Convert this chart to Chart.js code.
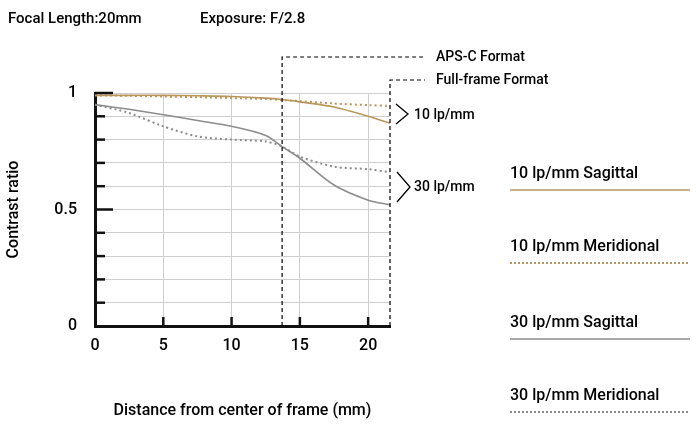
<!DOCTYPE html>
<html><head><meta charset="utf-8">
<script src="https://cdn.jsdelivr.net/npm/chart.js@4"></script>
<style>body{margin:0;background:#fff}#wrap{width:700px;height:425px}</style>
</head><body><div id="wrap"><canvas id="c"></canvas></div>
<script>
const positions = [0, 2.5, 5, 7.5, 10, 12.5, 13.7, 15, 17.5, 20, 21.6];
const sag10 = [0.99, 0.99, 0.99, 0.988, 0.985, 0.978, 0.972, 0.962, 0.94, 0.9, 0.87];
const mer10 = [0.99, 0.988, 0.985, 0.982, 0.978, 0.974, 0.97, 0.965, 0.955, 0.948, 0.945];
const sag30 = [0.95, 0.93, 0.907, 0.882, 0.857, 0.818, 0.77, 0.72, 0.605, 0.54, 0.52];
const mer30 = [0.95, 0.914, 0.857, 0.814, 0.80, 0.792, 0.77, 0.727, 0.684, 0.673, 0.66];
const xTicks = [0, 5, 10, 15, 20];
const yLabels = [0, 0.5, 1];
const apsC = 13.7, fullFrame = 21.6;

const gold = '#b8965c', grey = '#8c8c8c';
const font = 'Roboto, sans-serif';
const pts = a => a.map((v, i) => ({x: positions[i], y: v}));
const ds = (label, data, color, dotted) => ({
  label, data: pts(data), borderColor: color, borderWidth: dotted ? 2 : 1.6,
  borderDash: dotted ? [2, 3] : [], pointRadius: 0, tension: 0.3, fill: false
});

const overlay = {
  id: 'overlay',
  afterDraw(chart) {
    const {ctx, scales: {x, y}} = chart;
    const left = x.getPixelForValue(0), bottom = y.getPixelForValue(0);
    ctx.save();
    ctx.strokeStyle = '#111'; ctx.lineWidth = 2.5;
    for (let v = 0.1; v <= 1.001; v += 0.1) {
      const py = y.getPixelForValue(v);
      const len = (Math.abs(v - 0.5) < 0.01 || v > 0.99) ? 18 : 10;
      ctx.beginPath(); ctx.moveTo(left, py); ctx.lineTo(left + len, py); ctx.stroke();
    }
    xTicks.slice(1).forEach(v => {
      const px = x.getPixelForValue(v);
      ctx.beginPath(); ctx.moveTo(px, bottom); ctx.lineTo(px, bottom - 9); ctx.stroke();
    });
    ctx.lineWidth = 1.2; ctx.setLineDash([4, 3]); ctx.strokeStyle = '#000';
    const a = x.getPixelForValue(apsC), f = x.getPixelForValue(fullFrame);
    ctx.beginPath(); ctx.moveTo(a, bottom); ctx.lineTo(a, 57); ctx.lineTo(425, 57); ctx.stroke();
    ctx.beginPath(); ctx.moveTo(f, bottom); ctx.lineTo(f, 80); ctx.lineTo(425, 80); ctx.stroke();
    ctx.setLineDash([]);
    ctx.fillStyle = '#000'; ctx.font = '500 14px ' + font; ctx.textBaseline = 'middle';
    ctx.fillText('APS-C Format', 436, 57);
    ctx.fillText('Full-frame Format', 436, 80);
    ctx.lineWidth = 1.3;
    ctx.beginPath(); ctx.moveTo(396, 104); ctx.lineTo(408, 114); ctx.lineTo(396, 124); ctx.stroke();
    ctx.beginPath(); ctx.moveTo(397, 172); ctx.lineTo(410, 187); ctx.lineTo(397, 202); ctx.stroke();
    ctx.fillText('10 lp/mm', 414, 115);
    ctx.fillText('30 lp/mm', 414, 187);
    ctx.font = '500 15px ' + font;
    ctx.fillText('Focal Length:20mm', 8, 19);
    ctx.fillText('Exposure: F/2.8', 200, 19);
    const leg = [['10 lp/mm Sagittal', gold, false, 174], ['10 lp/mm Meridional', gold, true, 247],
                 ['30 lp/mm Sagittal', grey, false, 323], ['30 lp/mm Meridional', grey, true, 396]];
    leg.forEach(([t, c, d, ty]) => {
      ctx.fillStyle = '#000'; ctx.font = '500 16px ' + font;
      ctx.fillText(t, 510, ty);
      ctx.strokeStyle = c; ctx.lineWidth = d ? 2 : 1.6; ctx.setLineDash(d ? [2, 2] : []);
      ctx.beginPath(); ctx.moveTo(510, ty + 16); ctx.lineTo(690, ty + 16); ctx.stroke();
    });
    ctx.restore();
  }
};

new Chart(document.getElementById('c'), {
  type: 'line',
  data: { datasets: [ds('10 lp/mm Sagittal', sag10, gold, false), ds('10 lp/mm Meridional', mer10, gold, true),
                     ds('30 lp/mm Sagittal', sag30, grey, false), ds('30 lp/mm Meridional', mer30, grey, true)] },
  options: {
    responsive: true, maintainAspectRatio: false, animation: false,
    layout: { padding: { top: 93, right: 310, left: 0, bottom: 0 } },
    plugins: { legend: { display: false }, tooltip: { enabled: false } },
    scales: {
      x: {
        type: 'linear', min: 0, max: fullFrame,
        afterBuildTicks: s => { s.ticks = xTicks.map(v => ({value: v})); },
        afterFit: s => { s.height = 99; },
        grid: { color: '#cfcfcf', drawTicks: false },
        border: { color: '#111', width: 3 },
        ticks: { color: '#000', font: { size: 16, family: font, weight: '500' }, padding: 10 },
        title: { display: true, text: 'Distance from center of frame (mm)', color: '#000',
                 font: { size: 16, family: font, weight: '500' }, padding: { top: 14 } }
      },
      y: {
        min: 0, max: 1,
        afterBuildTicks: s => { s.ticks = [0,0.1,0.2,0.3,0.4,0.5,0.6,0.7,0.8,0.9,1].map(v => ({value: v})); },
        afterFit: s => { s.width = 95; },
        grid: { color: '#cfcfcf', drawTicks: false },
        border: { color: '#111', width: 3 },
        ticks: { color: '#000', font: { size: 16, family: font, weight: '500' }, padding: 18,
                 callback: v => yLabels.some(l => Math.abs(l - v) < 1e-6) ? String(+v.toFixed(1)) : '' },
        title: { display: true, text: 'Contrast ratio', color: '#000', font: { size: 16, family: font, weight: '500' } }
      }
    }
  },
  plugins: [overlay]
});
</script></body></html>
